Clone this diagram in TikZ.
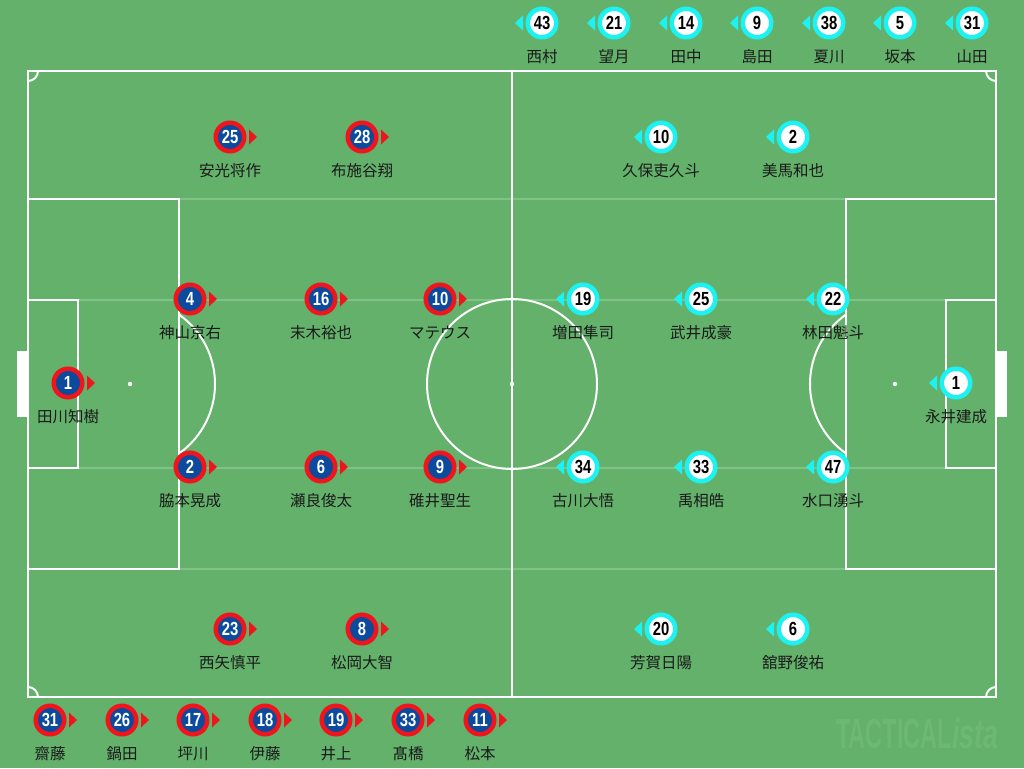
\documentclass[tikz,border=0pt]{standalone}
\usepackage{fontspec}
\usetikzlibrary{calc}
\setmainfont{Liberation Sans}
\newfontfamily\jp{Noto Sans CJK JP}
\newfontfamily\numfont[FakeStretch=0.78]{Liberation Sans}
\newfontfamily\wmA[FakeStretch=0.56]{Liberation Sans}
\newfontfamily\wmB[FakeStretch=0.64]{Liberation Sans}
\definecolor{pitch}{HTML}{63B16B}
\definecolor{faintc}{HTML}{80C387}
\definecolor{wmc}{HTML}{6EB875}
\definecolor{redc}{HTML}{F0141C}
\definecolor{bluec}{HTML}{0B4A9C}
\definecolor{cyanc}{HTML}{1DF2F2}
\definecolor{labc}{HTML}{1A1A1A}
\tikzset{
  fieldline/.style={draw=white, line width=2},
  faint/.style={draw=faintc, line width=1.5},
  redp/.style={circle, draw=redc, line width=4.5, fill=bluec, minimum size=28.5, inner sep=0,
    text=white, font=\numfont\bfseries\fontsize{19}{19}\selectfont},
  cyanp/.style={circle, draw=cyanc, line width=4.5, fill=white, minimum size=28.5, inner sep=0,
    text=black, font=\numfont\bfseries\fontsize{19}{19}\selectfont},
  lab/.style={text=labc, font=\jp\fontsize{15.5}{18}\selectfont, inner sep=0},
}
\newcommand\rp[5]{%
  \node[redp] (#1) at (#2,#3) {#4};
  \fill[redc] ($(#1)+(19,-7.5)$) -- ($(#1)+(19,7.5)$) -- ($(#1)+(27,0)$) -- cycle;
  \node[lab] (#1l) at (#2,#3+34) {#5};
}
\newcommand\cp[5]{%
  \node[cyanp] (#1) at (#2,#3) {#4};
  \fill[cyanc] ($(#1)+(-19,-7.5)$) -- ($(#1)+(-19,7.5)$) -- ($(#1)+(-27,0)$) -- cycle;
  \node[lab] (#1l) at (#2,#3+34) {#5};
}
\begin{document}
\begin{tikzpicture}[x=1pt,y=-1pt]
\fill[pitch] (0,0) rectangle (1024,768);
\useasboundingbox (0,0) rectangle (1024,768);
% faint lines
\draw[faint] (179,199) -- (846,199);
\draw[faint] (179,569) -- (846,569);
\draw[faint] (78,300) -- (946,300);
\draw[faint] (78,468) -- (946,468);
% goals
\fill[white] (17,351) rectangle (28,417);
\fill[white] (996,351) rectangle (1007,417);
% field
\draw[fieldline] (28,71) rectangle (996,697);
\draw[fieldline] (512,71) -- (512,697);
\draw[fieldline] (28,199) rectangle (179,569);
\draw[fieldline] (28,300) rectangle (78,468);
\draw[fieldline] (846,199) rectangle (996,569);
\draw[fieldline] (946,300) rectangle (996,468);
\draw[fieldline] (512,384) circle[radius=85];
\fill[white] (512,384) circle[radius=2.2];
\fill[white] (130,384) circle[radius=2.2];
\fill[white] (895,384) circle[radius=2.2];
\begin{scope}
  \clip (179,0) rectangle (512,768);
  \draw[fieldline] (130,384) circle[radius=85];
\end{scope}
\begin{scope}
  \clip (512,0) rectangle (846,768);
  \draw[fieldline] (895,384) circle[radius=85];
\end{scope}
\begin{scope}
  \clip (28,71) rectangle (996,697);
  \draw[fieldline] (28,71) circle[radius=10];
  \draw[fieldline] (996,71) circle[radius=10];
  \draw[fieldline] (28,697) circle[radius=10];
  \draw[fieldline] (996,697) circle[radius=10];
\end{scope}
% watermark
\node[anchor=base west, inner sep=0, text=wmc] (wm) at (836,748)
  {\fontsize{42}{42}\selectfont\wmA\bfseries TACTICAL\wmB\itshape ista};
% red team
\rp{r25}{230}{137}{25}{安光将作}
\rp{r28}{362}{137}{28}{布施谷翔}
\rp{r4}{190}{299}{4}{神山京右}
\rp{r16}{321}{299}{16}{末木裕也}
\rp{r10}{440}{299}{10}{マテウス}
\rp{r1}{68}{383}{1}{田川知樹}
\rp{r2}{190}{467}{2}{脇本晃成}
\rp{r6}{321}{467}{6}{瀬良俊太}
\rp{r9}{440}{467}{9}{碓井聖生}
\rp{r23}{230}{629}{23}{西矢慎平}
\rp{r8}{362}{629}{8}{松岡大智}
% red bench
\rp{rb31}{50}{720}{31}{齋藤}
\rp{rb26}{122}{720}{26}{鍋田}
\rp{rb17}{193}{720}{17}{坪川}
\rp{rb18}{265}{720}{18}{伊藤}
\rp{rb19}{336}{720}{19}{井上}
\rp{rb33}{408}{720}{33}{髙橋}
\rp{rb11}{480}{720}{11}{松本}
% cyan team
\cp{c10}{661}{137}{10}{久保吏久斗}
\cp{c2}{793}{137}{2}{美馬和也}
\cp{c19}{583}{299}{19}{増田隼司}
\cp{c25}{701}{299}{25}{武井成豪}
\cp{c22}{833}{299}{22}{林田魁斗}
\cp{c1}{956}{383}{1}{永井建成}
\cp{c34}{583}{467}{34}{古川大悟}
\cp{c33}{701}{467}{33}{禹相皓}
\cp{c47}{833}{467}{47}{水口湧斗}
\cp{c20}{661}{629}{20}{芳賀日陽}
\cp{c6}{793}{629}{6}{舘野俊祐}
% cyan bench
\cp{cb43}{542}{23}{43}{西村}
\cp{cb21}{614}{23}{21}{望月}
\cp{cb14}{686}{23}{14}{田中}
\cp{cb9}{757}{23}{9}{島田}
\cp{cb38}{829}{23}{38}{夏川}
\cp{cb5}{900}{23}{5}{坂本}
\cp{cb31}{972}{23}{31}{山田}
\end{tikzpicture}
\end{document}
